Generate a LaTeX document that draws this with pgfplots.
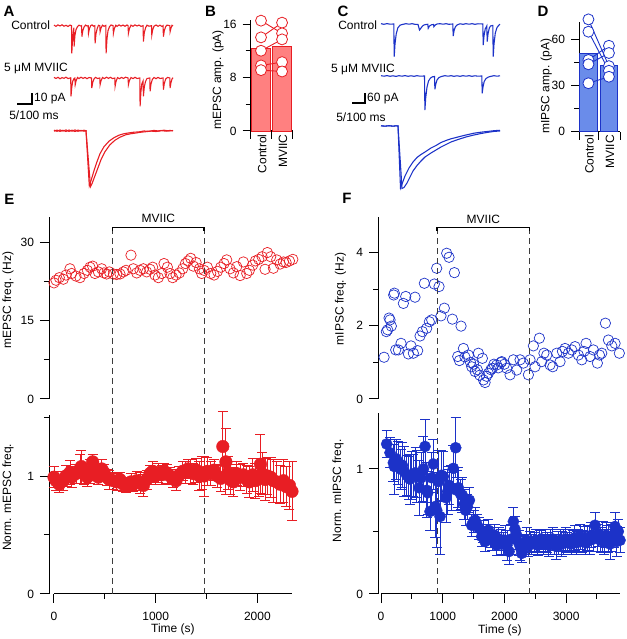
\documentclass[border=0pt]{standalone}
\usepackage{fontspec}
\setmainfont{Liberation Sans}
\usepackage{pgfplots}
\usepackage{pgfplotstable}
\pgfplotsset{compat=1.18}
\definecolor{myred}{RGB}{232,30,36}
\definecolor{lightred}{RGB}{255,128,128}
\definecolor{myblue}{RGB}{28,50,200}
\definecolor{lightblue}{RGB}{106,140,234}
\definecolor{dgray}{RGB}{60,60,60}

\pgfplotsset{
 igor/.style={scale only axis, clip=false,
  axis line style={-, line width=1pt},
  tick align=outside, major tick length=9pt, minor tick length=5pt,
  every tick/.style={black, line width=1pt},
  tick label style={font=\fontsize{12}{14}\selectfont},
  yticklabel style={xshift=-2.5pt},
  label style={font=\fontsize{12}{14}\selectfont},
  /pgf/number format/assume math mode=true,
  /pgf/number format/1000 sep={}}
}

% ---------- traces (t in 0..119, v deflection, negative = inward) ----------
\pgfplotstableread[row sep=\\]{t v\\
0 0.5\\ 2 -0.6\\ 4 0.8\\ 6 -0.3\\ 8 0.9\\ 10 -0.5\\ 12 0.4\\ 14 -0.8\\ 16 0.6\\ 17.5 0\\ 17.8 -27.7\\ 18.5 -14\\ 19.3 -6\\ 19.9 -2\\ 20.1 -21\\ 20.9 -10\\ 22 -4\\ 23.5 -1\\ 25 0.5\\ 27 -0.4\\ 27.6 0\\ 27.9 -11\\ 28.8 -5\\ 30 -1.5\\ 31.5 0.6\\ 33 -0.3\\ 34.2 0\\ 34.5 -7.7\\ 35.4 -3\\ 36.8 0.2\\ 38 0.8\\ 39.5 -0.5\\ 40.8 0\\ 41.1 -17.7\\ 42 -8\\ 43.3 -2.5\\ 44.5 0.4\\ 45.8 0\\ 46.1 -6\\ 47 -2.5\\ 48.5 0.5\\ 50 -0.6\\ 51.8 0.3\\ 52.1 -27.7\\ 53 -13\\ 54 -5\\ 55.5 -1\\ 57 0.7\\ 59.1 0\\ 59.4 -7.7\\ 60.3 -3\\ 61.8 0.4\\ 63 -0.7\\ 65 0.8\\ 67 -0.4\\ 69 0.6\\ 71 -0.6\\ 73 0.7\\ 74.1 0\\ 74.4 -7.7\\ 75.4 -3\\ 77 0.5\\ 79 -0.6\\ 81 0.8\\ 83 -0.3\\ 85 0.6\\ 87 -0.7\\ 89.1 0\\ 89.4 -16\\ 90.3 -7\\ 91.6 -2\\ 93 0.5\\ 95 -0.5\\ 97.5 0\\ 97.8 -9.3\\ 98.7 -4\\ 100 -0.5\\ 102 0.7\\ 104 -0.6\\ 106 0.5\\ 108 -0.8\\ 109.1 0\\ 109.4 -11\\ 110.3 -5\\ 111.6 -1\\ 113 0.6\\ 115.8 0\\ 116.1 -6\\ 117 -2.5\\ 118 0.4\\ 119 -0.3\\
}\trAc
\pgfplotstableread[row sep=\\]{t v\\
0 0.6\\ 2 -0.5\\ 4 0.7\\ 6 -0.8\\ 8 0.4\\ 10 -0.3\\ 12 0.8\\ 14 -0.6\\ 16.7 0.2\\ 17 -18.3\\ 17.8 -9\\ 18.8 -3\\ 20 -0.5\\ 20.9 0\\ 21.2 -6.7\\ 22 -3\\ 23.5 0.5\\ 25 -0.6\\ 27 0.8\\ 29 -0.4\\ 31 0.6\\ 33 -0.7\\ 35 0.5\\ 37.5 0\\ 37.8 -10\\ 38.7 -4.5\\ 40 -1\\ 41.5 0.6\\ 43.5 -0.5\\ 45.8 0\\ 46.1 -6.7\\ 47 -2.8\\ 48.5 0.5\\ 50.5 -0.6\\ 52.5 0.8\\ 54.5 -0.4\\ 56.5 0.7\\ 58.5 -0.6\\ 60.8 0\\ 61.1 -8.3\\ 62 -3.5\\ 63.5 0.4\\ 65.5 -0.7\\ 67.5 0.6\\ 69.5 -0.5\\ 71.5 0.8\\ 74.1 0\\ 74.4 -6.7\\ 75.3 -2.8\\ 77 0.5\\ 79 -0.6\\ 81 0.7\\ 83 -0.5\\ 85.8 0\\ 86.1 -28.3\\ 86.9 -14\\ 87.8 -6\\ 89.1 -3\\ 89.4 -18.3\\ 90.3 -9\\ 91.5 -3.5\\ 93 -0.5\\ 95.8 0\\ 96.1 -13.3\\ 97 -6\\ 98.3 -1.5\\ 100 0.5\\ 102 -0.7\\ 104 0.6\\ 106 -0.5\\ 109.1 0\\ 109.4 -11.7\\ 110.3 -5.5\\ 111.7 -1\\ 113.5 0.6\\ 115.8 0\\ 116.1 -10\\ 117 -4.5\\ 118 -1\\ 119 0.3\\
}\trAm
\pgfplotstableread[row sep=\\]{t v\\
0 0.5\\ 3 -0.6\\ 6 0.7\\ 9 -0.4\\ 12 0.8\\ 15 -0.7\\ 18 0.5\\ 21 -0.8\\ 24 0.6\\ 27 -0.3\\ 30 0.5\\ 32 0\\ 35.3 -55\\ 37 -50\\ 40 -40\\ 43 -31\\ 46 -23\\ 50 -16\\ 55 -10.5\\ 60 -7\\ 65 -4.5\\ 70 -3\\ 75 -2.2\\ 80 -1.5\\ 85 -1.2\\ 90 -0.3\\ 95 -0.6\\ 100 0.3\\ 105 -0.4\\ 110 0.5\\ 115 -0.3\\ 119 0.2\\
}\trAa
\pgfplotstableread[row sep=\\]{t v\\
0 -0.5\\ 3 0.6\\ 6 -0.7\\ 9 0.4\\ 12 -0.8\\ 15 0.7\\ 18 -0.5\\ 21 0.8\\ 24 -0.6\\ 27 0.3\\ 30 -0.5\\ 32 0\\ 36.5 -56\\ 38 -53\\ 41 -45\\ 44 -37\\ 47 -29\\ 51 -21\\ 56 -14\\ 61 -9.5\\ 66 -6.5\\ 72 -4\\ 77 -3\\ 82 -2.3\\ 87 -1.5\\ 92 -1\\ 97 -0.4\\ 102 -0.8\\ 107 0.2\\ 112 -0.5\\ 116 0.3\\ 119 -0.2\\
}\trAb
\pgfplotstableread[row sep=\\]{t v\\
0 0.3\\ 3 -0.3\\ 6 0.4\\ 9 -0.2\\ 12.8 0\\ 13.2 -32.7\\ 14 -20\\ 15.2 -10\\ 16.8 -4\\ 19 -1.2\\ 22 -0.3\\ 25 0.3\\ 28 -0.2\\ 31 0.3\\ 34 -0.3\\ 37 -0.5\\ 38.5 -6\\ 40 -4\\ 41.5 -2\\ 43 -1\\ 45 -0.5\\ 46.8 -0.3\\ 47.2 -4.3\\ 48.5 -2\\ 50.5 -0.8\\ 52.5 -0.5\\ 52.9 -2.7\\ 54.2 -1\\ 56 0\\ 59 0.3\\ 62 -0.2\\ 65 0.3\\ 68 -0.3\\ 71.8 0\\ 72.2 -12\\ 73 -7\\ 74.3 -3\\ 76 -1\\ 79 0.2\\ 82 -0.3\\ 85 0.3\\ 88 -0.2\\ 91 0.3\\ 94 -0.3\\ 97 0.2\\ 101.8 0\\ 102.2 -21\\ 103 -12\\ 104.2 -5\\ 105.8 -2\\ 106.2 -17.7\\ 107 -10\\ 108.3 -4\\ 109.5 -2\\ 111.8 -1.5\\ 112.2 -32.7\\ 113 -20\\ 114.3 -9\\ 116 -3.5\\ 118 -1\\ 119 -0.3\\
}\trCc
\pgfplotstableread[row sep=\\]{t v\\
0 0.3\\ 3 -0.2\\ 6 0.4\\ 9 -0.3\\ 12 0.2\\ 15 -0.4\\ 18 0.3\\ 21 -0.2\\ 24 0.4\\ 27 -0.3\\ 30 0.2\\ 33 -0.3\\ 36 0.3\\ 39 -0.2\\ 43.5 0\\ 43.9 -34\\ 44.7 -22\\ 46 -11\\ 47.5 -5\\ 49.5 -2\\ 51.5 -0.8\\ 53.5 -0.5\\ 53.9 -13.3\\ 54.8 -8\\ 56 -4\\ 58 -1.5\\ 61 -0.3\\ 64 0.3\\ 67 -0.2\\ 70 0.3\\ 73 -0.3\\ 76 0.2\\ 79 -0.3\\ 82 0.3\\ 85 -0.2\\ 88 0.3\\ 91 -0.3\\ 94 0.2\\ 97 -0.2\\ 100.8 0\\ 101.2 -17.3\\ 102 -11\\ 103.2 -5.5\\ 105 -2.5\\ 107.5 -1\\ 110 -0.3\\ 113 0.3\\ 116 -0.2\\ 119 0.2\\
}\trCm
\pgfplotstableread[row sep=\\]{t v\\
0 0.2\\ 4 -0.2\\ 8 0.3\\ 12 -0.2\\ 15 0.2\\ 17 0\\ 19.5 -62\\ 21 -58\\ 24 -50\\ 28 -42\\ 32 -36\\ 36 -31.5\\ 40 -28.5\\ 44 -26\\ 50 -22\\ 55 -19.5\\ 60 -16.5\\ 65 -14.5\\ 70 -12.8\\ 77 -11\\ 85 -9\\ 93 -7.2\\ 100 -6.2\\ 107 -5.4\\ 113 -4.7\\ 119 -4.3\\
}\trCa
\pgfplotstableread[row sep=\\]{t v\\
0 0.2\\ 4 -0.2\\ 8 0.3\\ 12 -0.2\\ 15 0.2\\ 17 0\\ 21 -62.5\\ 23 -61.5\\ 26 -57\\ 28 -53\\ 32 -45\\ 36 -39.5\\ 40 -35\\ 44 -31\\ 50 -27\\ 55 -24\\ 60 -21\\ 65 -18.5\\ 70 -16\\ 77 -13.5\\ 85 -11\\ 93 -9\\ 100 -7.5\\ 107 -6.3\\ 113 -5.4\\ 119 -5\\
}\trCb

% ---------- E top: mEPSC frequency ----------
\pgfplotstableread[row sep=\\]{x y\\
0 22.2\\ 20 22.7\\ 52 23.2\\ 92 22.9\\ 118 23.7\\ 157 24.9\\ 174 24.0\\ 216 23.5\\ 256 23.2\\ 295 24.0\\ 328 24.6\\ 354 25.2\\ 380 25.4\\ 403 24.0\\ 436 24.3\\ 469 24.9\\ 492 24.1\\ 518 23.9\\ 544 24.3\\ 584 23.9\\ 616 23.8\\ 649 23.9\\ 682 24.3\\ 708 24.6\\ 757 27.5\\ 780 24.9\\ 813 24.1\\ 846 24.6\\ 879 24.9\\ 911 24.3\\ 944 24.8\\ 970 25.2\\ 993 23.7\\ 1026 23.2\\ 1059 24.0\\ 1082 25.9\\ 1115 25.2\\ 1141 24.0\\ 1167 23.2\\ 1200 23.7\\ 1233 24.1\\ 1266 24.9\\ 1292 25.9\\ 1318 26.4\\ 1344 26.9\\ 1370 25.4\\ 1397 26.1\\ 1430 24.9\\ 1452 24.0\\ 1475 24.6\\ 1508 25.2\\ 1541 24.0\\ 1574 23.7\\ 1607 24.4\\ 1639 25.2\\ 1672 25.9\\ 1698 26.6\\ 1731 24.9\\ 1764 24.1\\ 1797 25.3\\ 1830 23.6\\ 1862 26.2\\ 1895 24.0\\ 1921 24.6\\ 1954 25.6\\ 1980 26.4\\ 2013 26.7\\ 2046 27.2\\ 2075 24.8\\ 2098 28.0\\ 2131 27.2\\ 2157 25.0\\ 2190 26.6\\ 2223 25.8\\ 2256 26.2\\ 2282 26.1\\ 2315 26.4\\ 2348 26.7\\
}\Etop

% ---------- E bottom: normalised mEPSC frequency ----------
\pgfplotstableread[row sep=\\]{x y e\\
0 0.99 0.09\\ 20 0.96 0.08\\ 52 0.93 0.07\\ 92 0.96 0.08\\ 118 1.00 0.09\\ 157 1.03 0.10\\ 174 0.99 0.09\\ 216 1.02 0.08\\ 256 1.06 0.12\\ 270 1.08 0.14\\ 295 1.02 0.09\\ 328 0.99 0.08\\ 354 1.04 0.10\\ 380 1.12 0.06\\ 403 1.03 0.07\\ 436 0.99 0.06\\ 469 1.06 0.08\\ 492 1.03 0.07\\ 518 0.99 0.07\\ 544 0.97 0.08\\ 584 0.96 0.07\\ 616 0.95 0.07\\ 649 0.97 0.06\\ 682 0.93 0.06\\ 708 0.92 0.06\\ 757 0.95 0.07\\ 780 0.93 0.06\\ 813 0.96 0.08\\ 846 0.94 0.09\\ 879 0.92 0.09\\ 911 0.97 0.08\\ 944 1.02 0.07\\ 970 1.04 0.08\\ 993 1.00 0.07\\ 1026 1.03 0.08\\ 1059 1.01 0.08\\ 1082 1.04 0.07\\ 1115 1.02 0.08\\ 1141 1.00 0.07\\ 1167 0.98 0.08\\ 1200 0.96 0.08\\ 1233 1.01 0.07\\ 1266 1.04 0.08\\ 1292 1.03 0.09\\ 1318 1.06 0.08\\ 1344 1.04 0.10\\ 1370 1.02 0.09\\ 1397 1.05 0.10\\ 1430 1.00 0.12\\ 1452 1.03 0.14\\ 1475 1.00 0.17\\ 1508 1.04 0.12\\ 1541 1.02 0.10\\ 1574 1.05 0.09\\ 1607 1.00 0.10\\ 1639 0.98 0.11\\ 1660 1.25 0.30\\ 1690 1.12 0.28\\ 1712 1.03 0.14\\ 1731 0.97 0.13\\ 1764 0.95 0.12\\ 1797 1.02 0.10\\ 1830 0.99 0.11\\ 1862 1.01 0.10\\ 1895 0.97 0.12\\ 1921 0.95 0.13\\ 1954 1.01 0.14\\ 1980 0.96 0.15\\ 2013 0.99 0.16\\ 2030 1.10 0.25\\ 2046 1.02 0.18\\ 2075 0.97 0.18\\ 2098 1.00 0.16\\ 2131 0.99 0.17\\ 2157 0.96 0.18\\ 2190 0.95 0.17\\ 2223 0.93 0.16\\ 2256 0.96 0.18\\ 2282 0.91 0.17\\ 2315 0.92 0.20\\ 2340 0.87 0.25\\
}\Ebot

% ---------- F top: mIPSC frequency ----------
\pgfplotstableread[row sep=\\]{x y\\
49 1.14\\ 86 1.84\\ 108 1.89\\ 130 2.21\\ 146 2.16\\ 167 1.99\\ 205 2.84\\ 216 2.89\\ 238 1.34\\ 281 1.34\\ 324 1.52\\ 362 2.61\\ 400 2.80\\ 443 1.23\\ 486 1.45\\ 524 1.25\\ 551 2.78\\ 594 1.32\\ 632 1.72\\ 670 1.84\\ 702 3.16\\ 740 1.93\\ 783 2.11\\ 821 2.16\\ 864 3.14\\ 902 3.57\\ 940 3.07\\ 972 2.27\\ 1026 2.48\\ 1064 3.98\\ 1102 3.87\\ 1156 2.18\\ 1189 3.45\\ 1243 1.16\\ 1270 1.05\\ 1297 1.99\\ 1335 1.38\\ 1360 1.15\\ 1416 1.20\\ 1450 1.00\\ 1470 0.88\\ 1500 0.95\\ 1524 0.75\\ 1560 0.80\\ 1578 1.25\\ 1600 0.65\\ 1643 1.11\\ 1660 0.52\\ 1686 0.45\\ 1710 0.62\\ 1740 0.70\\ 1780 0.80\\ 1805 0.84\\ 1830 0.95\\ 1875 0.93\\ 1900 0.85\\ 1945 1.00\\ 1956 1.02\\ 2000 0.95\\ 2037 0.84\\ 2091 0.66\\ 2145 1.07\\ 2199 0.79\\ 2253 1.07\\ 2307 0.98\\ 2388 0.66\\ 2415 1.07\\ 2469 1.45\\ 2496 0.88\\ 2566 1.66\\ 2605 1.02\\ 2640 1.25\\ 2686 1.20\\ 2739 0.93\\ 2783 0.88\\ 2848 1.25\\ 2901 1.02\\ 2940 1.30\\ 2982 1.38\\ 3036 1.25\\ 3091 1.34\\ 3144 1.43\\ 3198 1.20\\ 3253 1.07\\ 3290 1.30\\ 3323 1.52\\ 3387 1.16\\ 3442 1.34\\ 3506 0.98\\ 3540 1.20\\ 3577 1.25\\ 3636 2.07\\ 3685 1.61\\ 3740 1.45\\ 3793 1.52\\ 3862 1.25\\
}\Ftop

% ---------- F bottom: normalised mIPSC frequency ----------
\pgfplotstableread[row sep=\\]{x y e\\
92 1.20 0.11\\ 146 1.13 0.12\\ 200 1.05 0.15\\ 216 1.02 0.22\\ 250 1.08 0.16\\ 281 1.05 0.17\\ 316 1.00 0.16\\ 346 1.03 0.18\\ 380 0.98 0.20\\ 416 0.95 0.16\\ 450 0.93 0.17\\ 470 0.92 0.20\\ 500 0.95 0.19\\ 524 0.95 0.17\\ 560 0.97 0.20\\ 578 0.94 0.21\\ 616 0.85 0.22\\ 650 0.93 0.20\\ 686 1.00 0.26\\ 713 1.18 0.22\\ 740 0.83 0.22\\ 757 0.81 0.17\\ 794 0.66 0.15\\ 820 0.93 0.20\\ 848 1.04 0.20\\ 880 0.70 0.25\\ 902 0.67 0.30\\ 930 0.90 0.25\\ 956 0.62 0.30\\ 980 0.95 0.20\\ 1010 0.94 0.20\\ 1053 0.77 0.20\\ 1080 0.82 0.18\\ 1102 0.87 0.15\\ 1140 0.85 0.18\\ 1172 1.005 0.18\\ 1210 1.17 0.24\\ 1230 0.83 0.16\\ 1253 0.85 0.16\\ 1290 0.80 0.12\\ 1318 0.79 0.14\\ 1350 0.72 0.12\\ 1372 0.67 0.12\\ 1400 0.70 0.10\\ 1432 0.75 0.10\\ 1470 0.55 0.09\\ 1500 0.58 0.09\\ 1524 0.59 0.10\\ 1560 0.55 0.09\\ 1588 0.525 0.09\\ 1632 0.46 0.08\\ 1660 0.50 0.09\\ 1686 0.42 0.08\\ 1710 0.48 0.08\\ 1740 0.51 0.09\\ 1770 0.45 0.08\\ 1805 0.43 0.08\\ 1840 0.47 0.09\\ 1875 0.39 0.08\\ 1910 0.44 0.09\\ 1945 0.42 0.10\\ 1980 0.40 0.09\\ 2010 0.43 0.12\\ 2040 0.39 0.12\\ 2075 0.34 0.10\\ 2110 0.44 0.12\\ 2145 0.58 0.11\\ 2170 0.52 0.10\\ 2199 0.47 0.11\\ 2230 0.41 0.10\\ 2260 0.37 0.10\\ 2280 0.325 0.07\\ 2310 0.38 0.08\\ 2334 0.40 0.08\\ 2360 0.43 0.10\\ 2388 0.39 0.09\\ 2420 0.42 0.08\\ 2442 0.40 0.08\\ 2480 0.41 0.08\\ 2510 0.43 0.09\\ 2540 0.39 0.08\\ 2570 0.42 0.09\\ 2600 0.44 0.08\\ 2630 0.40 0.08\\ 2660 0.43 0.09\\ 2690 0.41 0.08\\ 2720 0.39 0.09\\ 2750 0.42 0.10\\ 2780 0.44 0.09\\ 2810 0.40 0.08\\ 2840 0.38 0.10\\ 2870 0.41 0.09\\ 2900 0.43 0.09\\ 2930 0.40 0.10\\ 2960 0.42 0.10\\ 2990 0.44 0.09\\ 3020 0.41 0.08\\ 3050 0.43 0.09\\ 3080 0.40 0.08\\ 3110 0.42 0.09\\ 3140 0.45 0.10\\ 3170 0.41 0.09\\ 3200 0.43 0.09\\ 3230 0.46 0.10\\ 3260 0.42 0.09\\ 3290 0.44 0.10\\ 3320 0.41 0.09\\ 3350 0.45 0.10\\ 3380 0.43 0.11\\ 3410 0.47 0.10\\ 3440 0.44 0.10\\ 3468 0.55 0.10\\ 3500 0.45 0.11\\ 3530 0.48 0.10\\ 3560 0.43 0.10\\ 3590 0.46 0.12\\ 3620 0.42 0.10\\ 3650 0.47 0.10\\ 3680 0.44 0.11\\ 3710 0.40 0.12\\ 3740 0.45 0.11\\ 3770 0.47 0.10\\ 3792 0.54 0.11\\ 3820 0.42 0.12\\ 3845 0.50 0.10\\ 3873 0.43 0.10\\
}\Fbot

\begin{document}
\begin{tikzpicture}
\path[use as bounding box] (0pt,0pt) rectangle (626pt,639pt);

% ===== B: mEPSC amplitude =====
\begin{axis}[at={(250.7pt,508pt)}, anchor=south west, width=42.3pt, height=111pt,
  axis lines=left, igor,
  xmin=-0.49, xmax=1.52, ymin=0, ymax=16.6,
  ytick={0,8,16}, minor ytick={4,12},
  xtick={-0.49,0.5,1.5}, xticklabels={}, major tick length=8pt,
  extra x ticks={0,1}, extra x tick labels={Control,MVIIC},
  extra x tick style={major tick length=0pt, tick label style={rotate=90, anchor=east, xshift=0pt, yshift=-1pt}},
  ylabel={mEPSC amp. (pA)}, ylabel style={at={(axis description cs:-0.77,0.46)}, anchor=center}]
 \addplot[ybar, bar width=18.5pt, fill=lightred, draw=myred, line width=0.8pt] coordinates {(0,12.3) (1,12.6)};
 \addplot[myred, line width=0.9pt] coordinates {(0,16.5) (1,14.6)};
 \addplot[myred, line width=0.9pt] coordinates {(0,14.0) (1,16.2)};
 \addplot[myred, line width=0.9pt] coordinates {(0,12.0) (1,13.7)};
 \addplot[myred, line width=0.9pt] coordinates {(0,9.8) (1,10.3)};
 \addplot[myred, line width=0.9pt] coordinates {(0,9.1) (1,8.9)};
 \addplot[only marks, mark=*, mark size=5.5pt, mark options={fill=white, draw=myred, line width=0.8pt}]
   coordinates {(0,16.5) (0,14.0) (0,12.0) (0,9.8) (0,9.1) (1,16.2) (1,14.6) (1,13.7) (1,10.3) (1,8.9)};
\end{axis}

% ===== D: mIPSC amplitude =====
\begin{axis}[at={(579pt,507.3pt)}, anchor=south west, width=41pt, height=110pt,
  axis lines=left, igor,
  xmin=-0.46, xmax=1.54, ymin=0, ymax=71.3,
  ytick={0,30,60}, minor ytick={15,45},
  xtick={-0.46,0.5,1.54}, xticklabels={}, major tick length=8pt,
  extra x ticks={0,1}, extra x tick labels={Control,MVIIC},
  extra x tick style={major tick length=0pt, tick label style={rotate=90, anchor=east, yshift=-1pt}},
  ylabel={mIPSC amp. (pA)}, ylabel style={at={(axis description cs:-0.80,0.415)}, anchor=center}]
 \addplot[ybar, bar width=17.5pt, fill=lightblue, draw=myblue, line width=0.8pt] coordinates {(0,50.5) (1,43)};
 \addplot[myblue, line width=0.9pt] coordinates {(0,72.8) (1,42.5)};
 \addplot[myblue, line width=0.9pt] coordinates {(0,64.8) (1,39.5)};
 \addplot[myblue, line width=0.9pt] coordinates {(0,46.5) (1,55.7)};
 \addplot[myblue, line width=0.9pt] coordinates {(0,43.7) (1,51)};
 \addplot[myblue, line width=0.9pt] coordinates {(0,31.4) (1,35.6)};
 \addplot[only marks, mark=*, mark size=5.5pt, mark options={fill=white, draw=myblue, line width=0.8pt}]
   coordinates {(0,72.8) (0,64.8) (0,46.5) (0,43.7) (0,31.4) (1,55.7) (1,51) (1,42.5) (1,39.5) (1,35.6)};
\end{axis}

% ===== E top =====
\begin{axis}[at={(49pt,240pt)}, anchor=south west, width=243pt, height=182pt,
  axis y line=left, axis x line=none, igor,
  xmin=-49, xmax=2340, ymin=0, ymax=34.8,
  ytick={0,15,30}, minor ytick={7.5,22.5},
  ylabel={mEPSC freq. (Hz)}, ylabel style={at={(axis description cs:-0.169,0.544)}, anchor=center}]
 \addplot[only marks, mark=o, mark size=5.2pt, myred, mark options={line width=0.7pt}] table[x=x,y=y] {\Etop};
\end{axis}

% ===== E bottom =====
\begin{axis}[at={(49pt,45pt)}, anchor=south west, width=243pt, height=179pt,
  axis lines=left, igor, x axis line style={draw=none},
  xmin=-49, xmax=2340, ymin=0, ymax=1.517,
  ytick={0,1}, minor ytick={0.5,1.5},
  xtick={0,1000,2000}, minor xtick={500,1500},
  xticklabel style={yshift=-6pt},
  xlabel={Time (s)}, xlabel style={at={(axis description cs:0.51,-0.2)}, anchor=center},
  ylabel={Norm. mEPSC freq.}, ylabel style={at={(axis description cs:-0.169,0.54)}, anchor=center}]
 \addplot[black, line width=1pt] coordinates {(0,0) (2340,0)};
 \addplot[dgray, line width=1pt, dash pattern=on 6pt off 4pt] coordinates {(577,0) (577,3.104)};
 \addplot[dgray, line width=1pt, dash pattern=on 6pt off 4pt] coordinates {(1475,0) (1475,3.104)};
 \addplot[black, line width=1.4pt] coordinates {(577,3.075) (577,3.104) (1475,3.104) (1475,3.075)};
 \node[font=\fontsize{12}{14}\selectfont] at (axis cs:1026,3.18) {MVIIC};
 \addplot[myred, only marks, mark=*, mark size=6.3pt,
   error bars/.cd, y dir=both, y explicit,
   error bar style={line width=0.8pt, myred},
   error mark options={rotate=90, mark size=5pt, line width=0.8pt, myred}]
   table[x=x, y=y, y error=e] {\Ebot};
\end{axis}

% ===== F top =====
\begin{axis}[at={(378pt,240pt)}, anchor=south west, width=242pt, height=182pt,
  axis y line=left, axis x line=none, igor,
  xmin=-49, xmax=3873, ymin=0, ymax=4.97,
  ytick={0,2,4}, minor ytick={1,3},
  ylabel={mIPSC freq. (Hz)}, ylabel style={at={(axis description cs:-0.155,0.55)}, anchor=center}]
 \addplot[only marks, mark=o, mark size=5.2pt, myblue, mark options={line width=0.7pt}] table[x=x,y=y] {\Ftop};
\end{axis}

% ===== F bottom =====
\begin{axis}[at={(378pt,45pt)}, anchor=south west, width=242pt, height=181pt,
  axis lines=left, igor, x axis line style={draw=none},
  xmin=-49, xmax=3873, ymin=0, ymax=1.448,
  ytick={0,1}, minor ytick={0.5},
  xtick={0,1000,2000,3000}, minor xtick={500,1500,2500,3500},
  xticklabel style={yshift=-6pt},
  xlabel={Time (s)}, xlabel style={at={(axis description cs:0.504,-0.2)}, anchor=center},
  ylabel={Norm. mIPSC freq.}, ylabel style={at={(axis description cs:-0.165,0.57)}, anchor=center}]
 \addplot[black, line width=1pt] coordinates {(0,0) (3873,0)};
 \addplot[dgray, line width=1pt, dash pattern=on 6pt off 4pt] coordinates {(908,0) (908,2.93)};
 \addplot[dgray, line width=1pt, dash pattern=on 6pt off 4pt] coordinates {(2410,0) (2410,2.93)};
 \addplot[black, line width=1.4pt] coordinates {(908,2.905) (908,2.93) (2410,2.93) (2410,2.905)};
 \node[font=\fontsize{12}{14}\selectfont] at (axis cs:1659,3.0) {MVIIC};
 \addplot[myblue, only marks, mark=*, mark size=5.6pt,
   error bars/.cd, y dir=both, y explicit,
   error bar style={line width=0.8pt, myblue},
   error mark options={rotate=90, mark size=5pt, line width=0.8pt, myblue}]
   table[x=x, y=y, y error=e] {\Fbot};
\end{axis}

% ===== canvas in pixel units: traces, scale bars, panel letters =====
\begin{axis}[at={(0pt,0pt)}, anchor=south west, scale only axis, width=626pt, height=639pt,
  xmin=0, xmax=626, ymin=0, ymax=639, y dir=reverse, hide axis, clip=false]
 \addplot[myred, line width=1.1pt] table[x expr=\thisrow{t}+54, y expr=25.7-\thisrow{v}] {\trAc};
 \addplot[myred, line width=1.1pt] table[x expr=\thisrow{t}+54, y expr=78-\thisrow{v}] {\trAm};
 \addplot[myred, line width=1.1pt] table[x expr=\thisrow{t}+54, y expr=130.7-\thisrow{v}] {\trAa};
 \addplot[myred, line width=1.1pt] table[x expr=\thisrow{t}+54, y expr=130.7-\thisrow{v}] {\trAb};
 \addplot[myblue, line width=1.1pt] table[x expr=\thisrow{t}+381, y expr=24-\thisrow{v}] {\trCc};
 \addplot[myblue, line width=1.1pt] table[x expr=\thisrow{t}+381, y expr=76-\thisrow{v}] {\trCm};
 \addplot[myblue, line width=1.1pt] table[x expr=\thisrow{t}+381, y expr=126-\thisrow{v}] {\trCa};
 \addplot[myblue, line width=1.1pt] table[x expr=\thisrow{t}+381, y expr=126-\thisrow{v}] {\trCb};
 \addplot[black, line width=2pt] coordinates {(17,104) (32,104) (32,93)};
 \addplot[black, line width=2pt] coordinates {(352,103) (365,103) (365,93)};
 \node[anchor=east, font=\fontsize{12}{14}\selectfont] at (axis cs:53.5,25.5) {Control};
 \node[font=\fontsize{12}{14}\selectfont] at (axis cs:36,68) {5 μM MVIIC};
 \node[anchor=west, inner sep=1pt, font=\fontsize{12}{14}\selectfont] at (axis cs:33,99) {10 pA};
 \node[font=\fontsize{12}{14}\selectfont] at (axis cs:34,115.5) {5/100 ms};
 \node[anchor=east, font=\fontsize{12}{14}\selectfont] at (axis cs:380.5,25) {Control};
 \node[font=\fontsize{12}{14}\selectfont] at (axis cs:363,69.5) {5 μM MVIIC};
 \node[anchor=west, inner sep=1pt, font=\fontsize{12}{14}\selectfont] at (axis cs:366,99) {60 pA};
 \node[font=\fontsize{12}{14}\selectfont] at (axis cs:361,117) {5/100 ms};
 \node[font=\bfseries\fontsize{15}{17}\selectfont] at (axis cs:9,11.5) {A};
 \node[font=\bfseries\fontsize{15}{17}\selectfont] at (axis cs:210.5,11.7) {B};
 \node[font=\bfseries\fontsize{15}{17}\selectfont] at (axis cs:343,11.5) {C};
 \node[font=\bfseries\fontsize{15}{17}\selectfont] at (axis cs:543,11.5) {D};
 \node[font=\bfseries\fontsize{15}{17}\selectfont] at (axis cs:9.5,199) {E};
 \node[font=\bfseries\fontsize{15}{17}\selectfont] at (axis cs:347,198.5) {F};
\end{axis}
\end{tikzpicture}
\end{document}
